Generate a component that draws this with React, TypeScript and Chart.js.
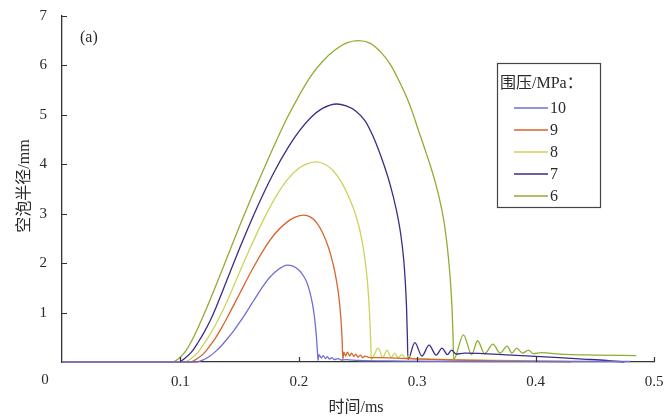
import React, { useEffect, useRef } from 'react';
import { Chart, registerables } from 'chart.js';

Chart.register(...registerables);

const seriesLabels = ['10', '9', '8', '7', '6'];
const seriesColors = ['#6f6fd4', '#d8652c', '#cdd35a', '#3a2d85', '#8fad33'];

// 10 MPa
const t10 = [0, 0.113, 0.12, 0.125, 0.13, 0.135, 0.14, 0.145, 0.15, 0.155, 0.16, 0.165, 0.17, 0.175, 0.18, 0.185, 0.19, 0.195, 0.2, 0.204, 0.207, 0.2095, 0.2115, 0.213, 0.2145, 0.2155, 0.2163,
  0.217, 0.219, 0.2205, 0.2225, 0.224, 0.226, 0.228, 0.23, 0.233, 0.236, 0.24, 0.25, 0.28, 0.35, 0.48];
const r10 = [0, 0, 0.05, 0.12, 0.22, 0.34, 0.48, 0.63, 0.8, 0.98, 1.17, 1.36, 1.54, 1.7, 1.82, 1.91, 1.96, 1.94, 1.86, 1.74, 1.6, 1.4, 1.18, 0.95, 0.62, 0.3, 0.03,
  0.15, 0.08, 0.13, 0.07, 0.11, 0.06, 0.09, 0.05, 0.07, 0.04, 0.05, 0.03, 0.02, 0.01, 0.01];

// 9 MPa
const t9 = [0, 0.108, 0.115, 0.12, 0.125, 0.13, 0.135, 0.14, 0.15, 0.16, 0.17, 0.18, 0.19, 0.197, 0.204, 0.21, 0.215, 0.22, 0.225, 0.229, 0.232, 0.234, 0.2355, 0.2365, 0.2372,
  0.238, 0.2395, 0.241, 0.243, 0.2445, 0.2465, 0.248, 0.25, 0.252, 0.254, 0.256, 0.26, 0.27, 0.29, 0.33, 0.38, 0.43];
const r9 = [0, 0, 0.08, 0.18, 0.33, 0.5, 0.7, 0.92, 1.38, 1.84, 2.26, 2.6, 2.83, 2.93, 2.97, 2.93, 2.82, 2.62, 2.32, 1.98, 1.62, 1.28, 0.9, 0.5, 0.05,
  0.2, 0.12, 0.2, 0.12, 0.18, 0.11, 0.16, 0.1, 0.14, 0.09, 0.12, 0.09, 0.09, 0.07, 0.04, 0.02, 0.005];

// 8 MPa
const t8 = [0, 0.103, 0.11, 0.115, 0.12, 0.125, 0.13, 0.135, 0.14, 0.15, 0.16, 0.17, 0.18, 0.19, 0.2, 0.208, 0.215, 0.222, 0.229, 0.236, 0.243, 0.248, 0.252, 0.255, 0.2575, 0.259, 0.2602, 0.2608, 0.2612,
  0.267, 0.271, 0.2745, 0.278, 0.281, 0.284, 0.287, 0.29, 0.293, 0.296, 0.31, 0.35, 0.4, 0.45];
const r8 = [0, 0, 0.09, 0.2, 0.37, 0.56, 0.77, 1.0, 1.26, 1.82, 2.36, 2.87, 3.32, 3.68, 3.92, 4.02, 4.05, 4.0, 3.87, 3.64, 3.3, 2.98, 2.62, 2.22, 1.75, 1.3, 0.75, 0.35, 0.05,
  0.28, 0.09, 0.24, 0.09, 0.18, 0.09, 0.15, 0.08, 0.12, 0.07, 0.06, 0.04, 0.02, 0.01];

// 7 MPa
const t7 = [0, 0.098, 0.105, 0.11, 0.115, 0.12, 0.125, 0.13, 0.14, 0.15, 0.16, 0.17, 0.18, 0.19, 0.2, 0.21, 0.22, 0.232, 0.24, 0.248, 0.256, 0.263, 0.271, 0.277, 0.282, 0.286, 0.2885, 0.29, 0.291, 0.2917, 0.2922,
  0.298, 0.304, 0.31, 0.316, 0.321, 0.3255, 0.329, 0.333, 0.34, 0.38, 0.42, 0.44, 0.46, 0.475];
const r7 = [0, 0, 0.1, 0.22, 0.4, 0.6, 0.83, 1.1, 1.7, 2.3, 2.87, 3.4, 3.88, 4.3, 4.66, 4.94, 5.13, 5.22, 5.18, 5.08, 4.88, 4.55, 4.05, 3.6, 3.12, 2.6, 2.1, 1.6, 1.1, 0.5, 0.05,
  0.39, 0.12, 0.34, 0.14, 0.28, 0.15, 0.24, 0.16, 0.18, 0.14, 0.09, 0.06, 0.03, 0];

// 6 MPa
const t6 = [0, 0.093, 0.1, 0.105, 0.11, 0.115, 0.12, 0.13, 0.14, 0.15, 0.16, 0.17, 0.18, 0.19, 0.2, 0.21, 0.22, 0.23, 0.24, 0.25, 0.26, 0.27, 0.277, 0.284, 0.291, 0.296, 0.301, 0.306, 0.311, 0.315, 0.318, 0.321, 0.3235, 0.326, 0.328, 0.3295, 0.3303, 0.3308,
  0.339, 0.346, 0.351, 0.357, 0.364, 0.37, 0.376, 0.38, 0.384, 0.389, 0.394, 0.398, 0.405, 0.42, 0.45, 0.485];
const r6 = [0, 0, 0.1, 0.24, 0.45, 0.7, 0.97, 1.55, 2.15, 2.75, 3.33, 3.88, 4.42, 4.93, 5.38, 5.78, 6.08, 6.3, 6.45, 6.5, 6.45, 6.25, 6.03, 5.72, 5.36, 5.05, 4.69, 4.34, 3.98, 3.66, 3.38, 3.05, 2.7, 2.2, 1.65, 1.05, 0.5, 0.05,
  0.55, 0.15, 0.43, 0.17, 0.36, 0.18, 0.32, 0.18, 0.28, 0.18, 0.24, 0.17, 0.19, 0.16, 0.14, 0.13];

const seriesTimes = [t10, t9, t8, t7, t6];
const seriesRadii = [r10, r9, r8, r7, r6];

const xTickValues = [0, 0.1, 0.2, 0.3, 0.4, 0.5];
const yTickValues = [0, 1, 2, 3, 4, 5, 6, 7];

const xTitle = '时间/ms';
const yTitle = '空泡半径/mm';
const legendTitle = '围压/MPa：';
const panelLabel = '(a)';

const SERIF = "'Liberation Serif', 'Noto Sans CJK SC', serif";
const TEXT = '#2a2a2a';

const decorPlugin = {
  id: 'decor',
  afterDraw(chart: any) {
    const { ctx, chartArea, scales } = chart;
    const xs = scales.x;
    const ys = scales.y;
    ctx.save();
    ctx.strokeStyle = '#333';
    ctx.lineWidth = 1.2;
    ctx.beginPath();
    for (const v of yTickValues) {
      if (v === 0) continue;
      const py = Math.round(ys.getPixelForValue(v)) + 0.5;
      ctx.moveTo(chartArea.left, py);
      ctx.lineTo(chartArea.left + 5, py);
    }
    for (const v of xTickValues) {
      if (v === 0) continue;
      const px = Math.round(xs.getPixelForValue(v)) + 0.5;
      ctx.moveTo(px, chartArea.bottom);
      ctx.lineTo(px, chartArea.bottom - 5);
    }
    ctx.stroke();

    ctx.fillStyle = TEXT;
    ctx.font = `15px ${SERIF}`;
    ctx.textAlign = 'center';
    ctx.textBaseline = 'middle';
    ctx.fillText('0', chartArea.left - 17, chartArea.bottom + 18);

    ctx.font = `16px ${SERIF}`;
    ctx.textAlign = 'left';
    ctx.fillText(panelLabel, chartArea.left + 18, chartArea.top + 22);

    ctx.textAlign = 'center';
    ctx.fillText(xTitle, (chartArea.left + chartArea.right) / 2 - 2, chartArea.bottom + 46);
    ctx.save();
    ctx.translate(25, (chartArea.top + chartArea.bottom) / 2 - 3);
    ctx.rotate(-Math.PI / 2);
    ctx.fillText(yTitle, 0, 0);
    ctx.restore();

    const bx = 497, by = 63, bw = 103, bh = 144;
    ctx.strokeStyle = '#444';
    ctx.lineWidth = 1.2;
    ctx.strokeRect(bx + 0.5, by + 0.5, bw, bh);
    ctx.fillStyle = TEXT;
    ctx.font = `16px ${SERIF}`;
    ctx.textAlign = 'left';
    ctx.fillText(legendTitle, bx + 3, by + 21);
    chart.data.datasets.forEach((ds: any, i: number) => {
      const cy = by + 45 + i * 22;
      ctx.strokeStyle = ds.borderColor;
      ctx.lineWidth = 1.5;
      ctx.beginPath();
      ctx.moveTo(bx + 17, cy);
      ctx.lineTo(bx + 51, cy);
      ctx.stroke();
      ctx.fillStyle = TEXT;
      ctx.fillText(ds.label, bx + 53, cy + 1);
    });
    ctx.restore();
  },
};

function zeroPadding(s: any) {
  s.paddingTop = 0;
  s.paddingBottom = 0;
  s.paddingLeft = 0;
  s.paddingRight = 0;
}

export default function App() {
  const canvasRef = useRef<HTMLCanvasElement | null>(null);

  useEffect(() => {
    if (!canvasRef.current) return;
    const datasets = seriesLabels.map((label, i) => ({
      label,
      data: seriesTimes[i].map((t, j) => ({ x: t, y: seriesRadii[i][j] })),
      borderColor: seriesColors[i],
      backgroundColor: seriesColors[i],
      borderWidth: 1.3,
      pointRadius: 0,
      fill: false,
      cubicInterpolationMode: 'monotone' as const,
      clip: false as any,
    }));
    const chart = new Chart(canvasRef.current, {
      type: 'line',
      data: { datasets },
      options: {
        animation: false,
        responsive: false,
        devicePixelRatio: 1,
        layout: { padding: { top: 16, right: 13, left: 0, bottom: 0 } },
        plugins: { legend: { display: false }, tooltip: { enabled: false } },
        scales: {
          x: {
            type: 'linear',
            min: 0,
            max: 0.5,
            afterFit: (s: any) => { s.height = 56; zeroPadding(s); },
            afterBuildTicks: (s: any) => { s.ticks = xTickValues.map((v) => ({ value: v })); },
            grid: { display: false, drawTicks: false },
            border: { display: true, color: '#333', width: 1.3 },
            ticks: {
              padding: 11,
              color: TEXT,
              font: { family: SERIF, size: 15 },
              maxRotation: 0,
              callback: (v: any) => (Number(v) === 0 ? '' : Number(v).toFixed(1)),
            },
          },
          y: {
            type: 'linear',
            min: 0,
            max: 7,
            afterFit: (s: any) => { s.width = 62; zeroPadding(s); },
            afterBuildTicks: (s: any) => { s.ticks = yTickValues.map((v) => ({ value: v })); },
            grid: { display: false, drawTicks: false },
            border: { display: true, color: '#333', width: 1.3 },
            ticks: {
              padding: 15,
              color: TEXT,
              font: { family: SERIF, size: 15 },
              callback: (v: any) => (Number(v) === 0 ? '' : String(v)),
            },
          },
        },
      },
      plugins: [decorPlugin],
    });
    return () => chart.destroy();
  }, []);

  return (
    <div style={{ position: 'absolute', left: 0, top: 0, width: 667, height: 418, background: '#fff' }}>
      <canvas ref={canvasRef} width={667} height={418} style={{ width: 667, height: 418 }} />
    </div>
  );
}
